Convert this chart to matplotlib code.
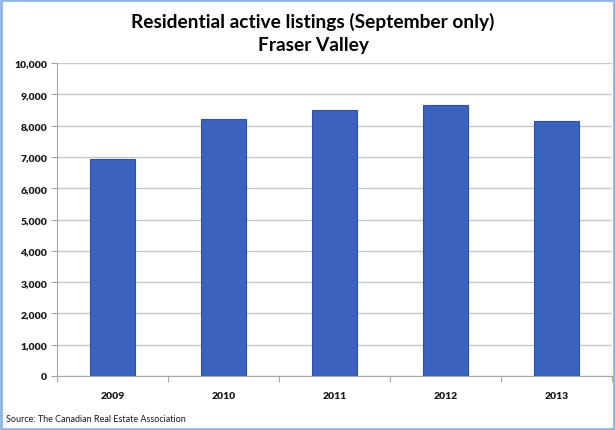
import matplotlib
matplotlib.use("Agg")
import matplotlib.pyplot as plt
from matplotlib.patches import Rectangle
from matplotlib.ticker import FuncFormatter, FixedLocator

years = ["2009", "2010", "2011", "2012", "2013"]
listings = [6930, 8200, 8490, 8650, 8160]
y_ticks = list(range(0, 10001, 1000))

plt.rcParams['font.family'] = ['Lato', 'DejaVu Sans']

fig = plt.figure(figsize=(6.15, 4.31), dpi=100)
ax = fig.add_axes([57/615, 1-377/431, 555/615, 313/431])

x = list(range(len(years)))
ax.bar(x, listings, width=0.4, color="#3A62BE", edgecolor="#2E50A6", linewidth=0.8, zorder=3)

ax.set_xlim(-0.5, len(years) - 0.5)
ax.set_ylim(0, 10000)
ax.set_yticks(y_ticks)
ax.yaxis.set_major_formatter(FuncFormatter(lambda v, p: f"{int(v):,}"))
ax.set_xticks(x)
ax.set_xticklabels(years)
ax.xaxis.set_minor_locator(FixedLocator([i - 0.5 for i in range(len(years) + 1)]))
ax.tick_params(axis='x', which='major', length=0, pad=11)
ax.tick_params(axis='x', which='minor', length=4, color="#A6A6A6", width=0.8)
ax.tick_params(axis='y', length=4, color="#A6A6A6", width=0.8, pad=3)
for lbl in ax.get_xticklabels() + ax.get_yticklabels():
    lbl.set_fontsize(7.5)
    lbl.set_fontweight('heavy')
    lbl.set_color('#1a1a1a')

ax.grid(axis='y', color="#C8C8C8", linewidth=1.0, zorder=0)
for s in ['top', 'right']:
    ax.spines[s].set_visible(False)
ax.spines['left'].set_color("#A6A6A6")
ax.spines['bottom'].set_color("#A6A6A6")
ax.spines['left'].set_linewidth(0.8)
ax.spines['bottom'].set_linewidth(0.8)

fig.text(313/615, 1-22/431, "Residential active listings (September only)", ha='center', va='center',
         fontsize=13.8, fontweight='bold', color='black')
fig.text(313/615, 1-46/431, "Fraser Valley", ha='center', va='center',
         fontsize=13.8, fontweight='bold', color='black')
fig.text(6/615, 1-420/431, "Source: The Canadian Real Estate Association", ha='left', va='center',
         fontsize=6.5, color='#1a1a1a')

fig.add_artist(Rectangle((0.0015, 0.002), 0.997, 0.996, transform=fig.transFigure,
                         fill=False, edgecolor="#8DB4E2", linewidth=2))

fig.savefig("out.png", dpi=100)
